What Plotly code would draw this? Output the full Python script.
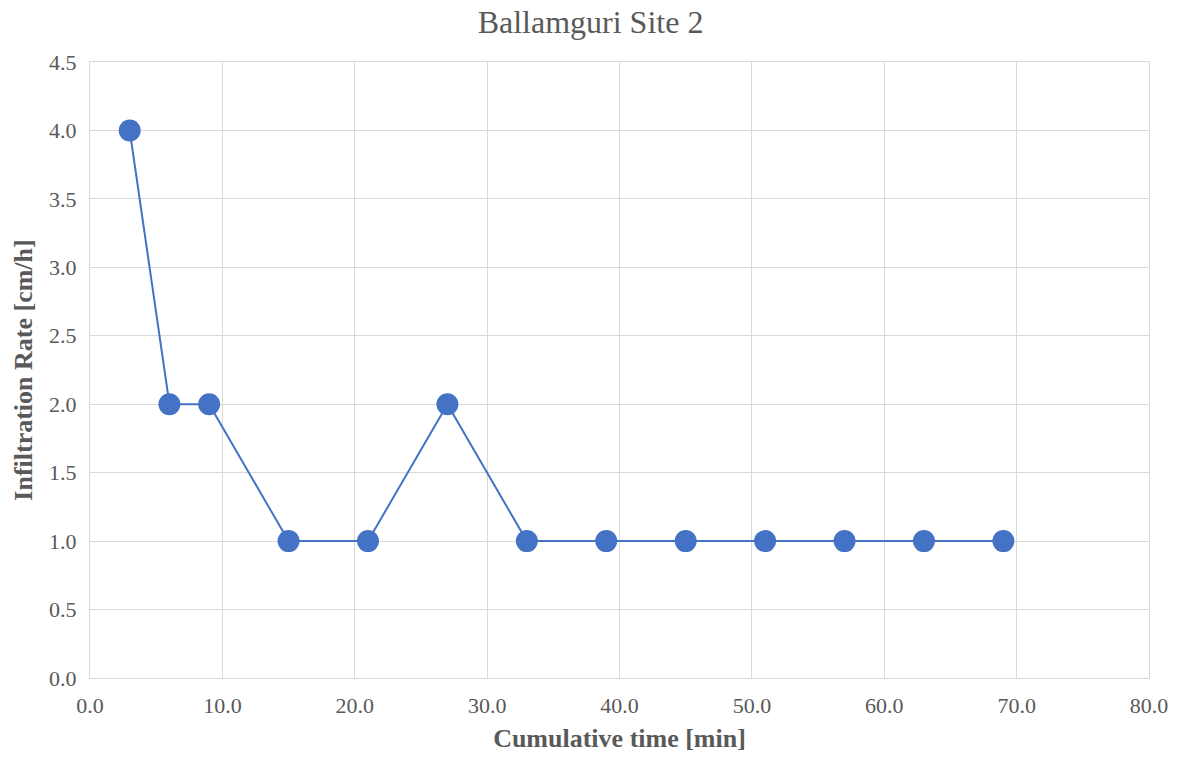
import plotly.graph_objects as go

time_min = [3, 6, 9, 15, 21, 27, 33, 39, 45, 51, 57, 63, 69]
rate = [4.0, 2.0, 2.0, 1.0, 1.0, 2.0, 1.0, 1.0, 1.0, 1.0, 1.0, 1.0, 1.0]
title = "Ballamguri Site 2"
x_title = "Cumulative time [min]"
y_title = "Infiltration Rate [cm/h]"

color = "#4472C4"
font = "Liberation Serif, Times New Roman, serif"
grid = "#d9d9d9"

fig = go.Figure(go.Scatter(
    x=time_min, y=rate, mode="lines+markers",
    line=dict(color=color, width=2),
    marker=dict(color=color, size=22),
))

fig.update_layout(
    width=1181, height=757,
    margin=dict(l=90, r=32, t=62, b=79),
    paper_bgcolor="white", plot_bgcolor="white",
    showlegend=False,
    title=dict(text=title, x=0.5, xanchor="center", y=0.971, yanchor="middle",
               font=dict(family=font, size=32, color="#595959")),
    font=dict(family=font, size=22, color="#595959"),
)
fig.update_xaxes(
    range=[0, 80], tick0=0, dtick=10, tickformat=".1f",
    showgrid=True, gridcolor=grid, gridwidth=1,
    showline=True, linecolor=grid, linewidth=1, mirror=True,
    zeroline=False, ticks="", ticklabelstandoff=8, automargin=False,
    title=dict(text="<b>" + x_title + "</b>", font=dict(family=font, size=26, color="#595959"), standoff=11),
)
fig.update_yaxes(
    range=[0, 4.5], tick0=0, dtick=0.5, tickformat=".1f",
    showgrid=True, gridcolor=grid, gridwidth=1,
    showline=True, linecolor=grid, linewidth=1, mirror=True,
    zeroline=False, ticks="", ticklabelstandoff=8, automargin=False,
    title=dict(text="<b>" + y_title + "</b>", font=dict(family=font, size=26, color="#595959"), standoff=8),
)

fig.write_html("out.html")
